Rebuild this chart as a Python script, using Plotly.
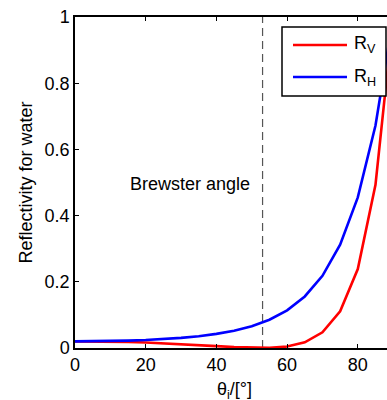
import plotly.graph_objects as go

# Data
angles = [0, 5, 10, 15, 20, 25, 30, 35, 40, 45, 50, 55, 60, 65, 70, 75, 80, 85, 90]
r_v = [0.020, 0.0198, 0.019, 0.018, 0.0164, 0.0143, 0.0117, 0.0088, 0.0057, 0.0027,
       0.0005, 0.0003, 0.0043, 0.0172, 0.0473, 0.1107, 0.2387, 0.493, 1.0]
r_h = [0.020, 0.0203, 0.021, 0.0223, 0.0241, 0.0268, 0.0305, 0.0356, 0.0426, 0.0523,
       0.066, 0.0855, 0.1139, 0.1557, 0.218, 0.3122, 0.455, 0.672, 1.0]
brewster = 53.06
x_ticks = [0, 20, 40, 60, 80]
y_ticks = [0, 0.2, 0.4, 0.6, 0.8, 1]
y_tick_labels = ["0", "0.2", "0.4", "0.6", "0.8", "1"]

FONT = "Liberation Sans, Arial, Helvetica, sans-serif"
FS = 18

fig = go.Figure()
fig.add_trace(go.Scatter(x=[brewster, brewster], y=[0, 1], mode="lines",
                         line=dict(color="#555555", width=1.2, dash="8px,5px"),
                         showlegend=False, hoverinfo="skip"))
fig.add_trace(go.Scatter(x=angles, y=r_v, mode="lines", name="R<sub>V</sub>",
                         line=dict(color="#ff0000", width=2.6), showlegend=False))
fig.add_trace(go.Scatter(x=angles, y=r_h, mode="lines", name="R<sub>H</sub>",
                         line=dict(color="#0000ff", width=2.6), showlegend=False))

# manual legend (paper coordinates)
def px2x(px):
    return (px - 75) / 312.0

def py2y(py):
    return (348 - py) / 331.0

shapes = [
    dict(type="rect", xref="paper", yref="paper", x0=px2x(282), x1=px2x(386),
         y0=py2y(96), y1=py2y(27), line=dict(color="black", width=1.5),
         fillcolor="white", layer="above"),
    dict(type="line", xref="paper", yref="paper", x0=px2x(293), x1=px2x(347),
         y0=py2y(45), y1=py2y(45), line=dict(color="#ff0000", width=2.6), layer="above"),
    dict(type="line", xref="paper", yref="paper", x0=px2x(293), x1=px2x(347),
         y0=py2y(77), y1=py2y(77), line=dict(color="#0000ff", width=2.6), layer="above"),
]

annotations = [
    dict(text="R<sub>V</sub>", xref="paper", yref="paper", x=px2x(352), y=py2y(45),
         xanchor="left", yanchor="middle", showarrow=False, font=dict(size=FS)),
    dict(text="R<sub>H</sub>", xref="paper", yref="paper", x=px2x(352), y=py2y(77),
         xanchor="left", yanchor="middle", showarrow=False, font=dict(size=FS)),
    dict(text="Brewster angle", xref="x", yref="y", x=32.5, y=0.495,
         xanchor="center", yanchor="middle", showarrow=False, font=dict(size=FS)),
    dict(text="Reflectivity for water", xref="paper", yref="paper", x=px2x(25), y=0.5,
         xanchor="center", yanchor="middle", textangle=-90, showarrow=False,
         font=dict(size=FS)),
    dict(text="θ<sub>i</sub>/[°]", xref="paper", yref="paper", x=px2x(234), y=py2y(377),
         xanchor="center", yanchor="top", showarrow=False, font=dict(size=FS)),
]

fig.update_layout(
    width=387, height=400,
    margin=dict(l=75, r=0, t=17, b=52),
    paper_bgcolor="white", plot_bgcolor="white",
    font=dict(family=FONT, size=FS, color="black"),
    shapes=shapes, annotations=annotations,
    showlegend=False,
)
fig.update_xaxes(range=[0, 88.26], tickvals=x_ticks, ticks="inside", ticklen=4,
                 tickcolor="black", showline=True, linecolor="black", linewidth=1.5,
                 mirror="ticks", showgrid=False, zeroline=False,
                 tickfont=dict(size=FS))
fig.update_yaxes(range=[0, 1], tickvals=y_ticks, ticktext=y_tick_labels,
                 ticks="inside", ticklen=4, tickcolor="black", showline=True,
                 linecolor="black", linewidth=1.5, mirror=False, showgrid=False,
                 zeroline=False, tickfont=dict(size=FS))

fig.write_html(
    "out.html",
    config={"displayModeBar": False},
    post_script="document.body.style.margin='0';document.body.style.overflow='hidden';",
)
